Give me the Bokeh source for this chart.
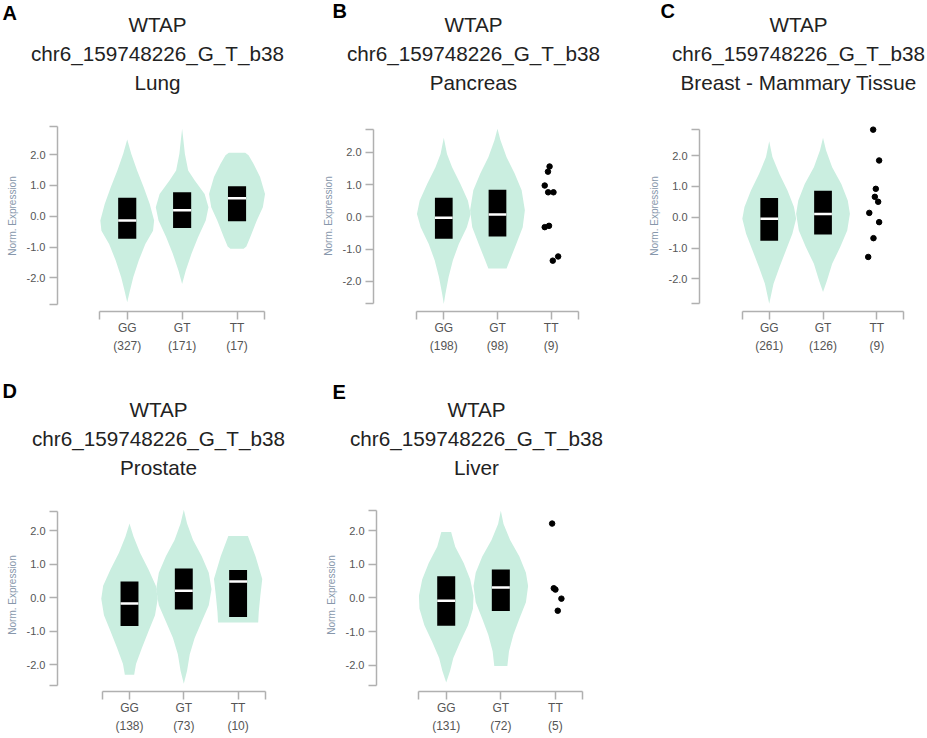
import numpy as np
from bokeh.plotting import figure
from bokeh.models import FixedTicker, PrintfTickFormatter
from bokeh.core.properties import value
from bokeh.layouts import column, row
from bokeh.embed import file_html
from bokeh.resources import INLINE

# ---------------- data ----------------
GENE = "WTAP"
VARIANT = "chr6_159748226_G_T_b38"
GENOTYPES = ["GG", "GT", "TT"]
LETTERS = ["A", "B", "C", "D", "E"]
TISSUES = ["Lung", "Pancreas", "Breast - Mammary Tissue", "Prostate", "Liver"]

# sample counts per genotype
LUNG_N = [327, 171, 17]
PANC_N = [198, 98, 9]
BREA_N = [261, 126, 9]
PROS_N = [138, 73, 10]
LIVR_N = [131, 72, 5]

# box stats per genotype: q1, median, q3
LUNG_Q1 = [-0.73, -0.38, -0.16]
LUNG_MED = [-0.14, 0.19, 0.58]
LUNG_Q3 = [0.60, 0.78, 0.97]
PANC_Q1 = [-0.68, -0.61]
PANC_MED = [-0.03, 0.07]
PANC_Q3 = [0.59, 0.84]
BREA_Q1 = [-0.76, -0.56]
BREA_MED = [-0.05, 0.10]
BREA_Q3 = [0.62, 0.86]
PROS_Q1 = [-0.84, -0.35, -0.57]
PROS_MED = [-0.17, 0.21, 0.49]
PROS_Q3 = [0.49, 0.88, 0.83]
LIVR_Q1 = [-0.83, -0.39]
LIVR_MED = [-0.08, 0.31]
LIVR_Q3 = [0.65, 0.85]

# violin outlines: expression level (top -> bottom) and half width of the density
LUNG_GG_Y = [2.49, 2.03, 1.48, 0.94, 0.40, -0.14, -0.47, -0.90, -1.44, -1.98, -2.41, -2.79]
LUNG_GG_W = [0.0, 0.073, 0.18, 0.30, 0.41, 0.49, 0.47, 0.33, 0.21, 0.11, 0.05, 0.0]
LUNG_GT_Y = [2.84, 2.46, 2.03, 1.48, 1.16, 0.72, 0.29, -0.14, -0.68, -1.22, -1.76, -2.20]
LUNG_GT_W = [0.0, 0.024, 0.05, 0.11, 0.23, 0.41, 0.48, 0.43, 0.29, 0.17, 0.067, 0.0]
LUNG_TT_Y = [2.06, 1.98, 1.70, 1.27, 0.72, 0.29, -0.14, -0.68, -0.98, -1.06]
LUNG_TT_W = [0.15, 0.21, 0.30, 0.42, 0.51, 0.47, 0.36, 0.24, 0.17, 0.12]

PANC_GG_Y = [2.45, 1.95, 1.54, 1.02, 0.50, 0.09, -0.32, -0.84, -1.35, -1.87, -2.39, -2.70]
PANC_GG_W = [0.0, 0.06, 0.155, 0.31, 0.45, 0.50, 0.43, 0.28, 0.17, 0.09, 0.03, 0.0]
PANC_GT_Y = [2.73, 2.37, 1.85, 1.34, 0.82, 0.20, -0.32, -0.84, -1.35, -1.60]
PANC_GT_W = [0.0, 0.056, 0.17, 0.32, 0.45, 0.51, 0.47, 0.35, 0.23, 0.17]
PANC_TT_Y = [1.56, 1.40, 0.97, 0.76, 0.76, -0.32, -0.28, -1.36, -1.23]
PANC_TT_DX = [-0.03, -0.06, -0.12, -0.056, 0.043, -0.12, -0.04, 0.03, 0.13]

BREA_GG_Y = [2.46, 1.95, 1.40, 0.87, 0.33, -0.05, -0.54, -1.08, -1.62, -2.16, -2.81]
BREA_GG_W = [0.0, 0.06, 0.19, 0.34, 0.46, 0.50, 0.43, 0.31, 0.19, 0.08, 0.0]
BREA_GT_Y = [2.58, 2.17, 1.62, 1.08, 0.54, 0.11, -0.43, -0.97, -1.51, -2.05, -2.43]
BREA_GT_W = [0.0, 0.056, 0.17, 0.34, 0.46, 0.50, 0.45, 0.32, 0.17, 0.074, 0.0]
BREA_TT_Y = [2.84, 1.84, 0.92, 0.66, 0.50, 0.14, -0.16, -0.68, -1.29]
BREA_TT_DX = [-0.068, 0.043, -0.019, -0.037, 0.025, -0.14, 0.043, -0.062, -0.16]

PROS_GG_Y = [2.22, 1.83, 1.34, 0.85, 0.36, -0.03, -0.52, -1.00, -1.49, -1.98, -2.30]
PROS_GG_W = [0.0, 0.074, 0.196, 0.35, 0.485, 0.52, 0.47, 0.35, 0.23, 0.12, 0.086]
PROS_GT_Y = [2.63, 2.22, 1.73, 1.24, 0.75, 0.26, -0.22, -0.71, -1.20, -1.69, -2.18, -2.57]
PROS_GT_W = [0.0, 0.06, 0.17, 0.33, 0.46, 0.51, 0.46, 0.33, 0.20, 0.11, 0.06, 0.0]
PROS_TT_Y = [1.85, 1.24, 0.56, 0.07, -0.43, -0.74]
PROS_TT_W = [0.18, 0.32, 0.445, 0.41, 0.38, 0.37]

LIVR_GG_Y = [1.97, 1.53, 1.04, 0.55, 0.07, -0.32, -0.81, -1.30, -1.79, -2.18, -2.52]
LIVR_GG_W = [0.09, 0.165, 0.32, 0.44, 0.50, 0.49, 0.40, 0.26, 0.13, 0.07, 0.0]
LIVR_GT_Y = [2.60, 2.21, 1.73, 1.24, 0.75, 0.36, -0.13, -0.62, -1.10, -1.59, -2.03]
LIVR_GT_W = [0.0, 0.05, 0.17, 0.34, 0.46, 0.50, 0.46, 0.34, 0.23, 0.15, 0.12]
LIVR_TT_Y = [2.22, 0.29, 0.25, -0.02, -0.38]
LIVR_TT_DX = [-0.06, -0.03, 0.0, 0.11, 0.043]

Y_TICKS = [-2, -1, 0, 1, 2]

# ---------------- style ----------------
VIOLIN = "#caeee0"
AXIS = "#b0b0b0"
TICKTXT = "#555555"
LABELTXT = "#8797ab"
TITLETXT = "#222222"
FONT = "Liberation Sans"
BOX_HW = 0.165


def panel(counts, violins, points, q1, med, q3, lay):
    p = figure(width=lay["w"], height=lay["h"], x_range=lay["xr"], y_range=lay["yr"],
               output_backend="svg", toolbar_location=None, title=None,
               min_border_left=lay["left"], min_border_right=10,
               min_border_top=lay["top"], min_border_bottom=lay["bottom"])
    p.outline_line_color = None
    p.grid.visible = False

    for gi, vw in violins.items():
        yv = np.asarray(vw[0], dtype=float)
        wv = np.asarray(vw[1], dtype=float)
        c = gi + 1
        xs = np.concatenate([c - wv, (c + wv)[::-1]])
        ys = np.concatenate([yv, yv[::-1]])
        p.patch(xs, ys, fill_color=VIOLIN, line_color=None)

    cx = np.arange(1, len(q1) + 1)
    p.quad(left=cx - BOX_HW, right=cx + BOX_HW, bottom=q1, top=q3,
           fill_color="black", line_color=None)
    p.segment(x0=cx - BOX_HW, x1=cx + BOX_HW, y0=med, y1=med,
              line_color="white", line_width=2.5)

    if points is not None:
        gi, yv, dx = points
        p.scatter(x=(gi + 1) + np.asarray(dx), y=yv, size=5.5,
                  fill_color="black", line_color="black")

    xa = p.xaxis[0]
    xa.ticker = FixedTicker(ticks=[1, 2, 3], minor_ticks=[0.5, 3.5])
    xa.bounds = (0.5, 3.5)
    xa.major_label_overrides = {i + 1: f"{g}\n({n})" for i, (g, n) in enumerate(zip(GENOTYPES, counts))}
    ya = p.yaxis[0]
    lo, hi = lay["yb"]
    ya.ticker = FixedTicker(ticks=Y_TICKS, minor_ticks=[lo, hi])
    ya.bounds = (lo, hi)
    ya.formatter = PrintfTickFormatter(format="%.1f")
    ya.axis_label = "Norm. Expression"
    ya.axis_label_text_font = FONT
    ya.axis_label_text_font_size = "10px"
    ya.axis_label_text_font_style = "normal"
    ya.axis_label_text_color = LABELTXT
    ya.axis_label_standoff = 6
    for ax in (xa, ya):
        ax.axis_line_color = AXIS
        ax.axis_line_width = 1.5
        ax.major_tick_line_color = AXIS
        ax.minor_tick_line_color = AXIS
        ax.major_tick_line_width = 1.5
        ax.minor_tick_line_width = 1.5
        ax.major_tick_out = 8
        ax.major_tick_in = 0
        ax.minor_tick_out = 8
        ax.minor_tick_in = 0
        ax.major_label_text_font = FONT
        ax.major_label_text_color = TICKTXT
    ya.major_label_text_font_size = "11px"
    ya.major_label_standoff = 4
    xa.major_label_text_font_size = "12px"
    xa.major_label_standoff = 1
    xa.major_label_text_line_height = 1.3
    return p


def header(width, height, blocks):
    """blocks: (panel index, title centre x, letter x, letter baseline, 3 title baselines)"""
    h = figure(width=width, height=height, x_range=(0, width), y_range=(height, 0),
               x_axis_type=None, y_axis_type=None, output_backend="svg",
               toolbar_location=None, title=None, min_border=0)
    h.outline_line_color = None
    h.grid.visible = False
    for idx, cxp, lxp, lyp, tys in blocks:
        h.text(x=[cxp] * 3, y=tys, text=[GENE, VARIANT, TISSUES[idx]],
               text_font=value(FONT), text_font_size="20.7px", text_color=TITLETXT,
               text_align="center", text_baseline="alphabetic")
        h.text(x=[lxp], y=[lyp], text=[LETTERS[idx]], text_font=value(FONT),
               text_font_size="20px", text_font_style="bold", text_color="black",
               text_align="left", text_baseline="alphabetic")
    return h


LAYOUTS = [
    dict(w=310, h=245, left=57, top=2, bottom=52, xr=(-0.270, 4.156), yr=(-3.094, 3.107),
         yb=(-2.87, 2.91)),
    dict(w=307, h=245, left=63, top=2, bottom=52, xr=(-0.309, 4.049), yr=(-2.936, 2.986),
         yb=(-2.70, 2.70)),
    dict(w=308, h=245, left=82, top=2, bottom=52, xr=(-0.296, 3.719), yr=(-3.059, 3.137),
         yb=(-2.81, 2.84)),
    dict(w=310, h=246, left=57, top=8, bottom=45, xr=(-0.326, 4.149), yr=(-2.80, 2.969),
         yb=(-2.62, 2.59)),
    dict(w=307, h=246, left=66, top=8, bottom=45, xr=(-0.277, 3.954), yr=(-2.79, 2.968),
         yb=(-2.62, 2.61)),
]

pA = panel(LUNG_N, {0: (LUNG_GG_Y, LUNG_GG_W), 1: (LUNG_GT_Y, LUNG_GT_W), 2: (LUNG_TT_Y, LUNG_TT_W)},
           None, LUNG_Q1, LUNG_MED, LUNG_Q3, LAYOUTS[0])
pB = panel(PANC_N, {0: (PANC_GG_Y, PANC_GG_W), 1: (PANC_GT_Y, PANC_GT_W)},
           (2, PANC_TT_Y, PANC_TT_DX), PANC_Q1, PANC_MED, PANC_Q3, LAYOUTS[1])
pC = panel(BREA_N, {0: (BREA_GG_Y, BREA_GG_W), 1: (BREA_GT_Y, BREA_GT_W)},
           (2, BREA_TT_Y, BREA_TT_DX), BREA_Q1, BREA_MED, BREA_Q3, LAYOUTS[2])
pD = panel(PROS_N, {0: (PROS_GG_Y, PROS_GG_W), 1: (PROS_GT_Y, PROS_GT_W), 2: (PROS_TT_Y, PROS_TT_W)},
           None, PROS_Q1, PROS_MED, PROS_Q3, LAYOUTS[3])
pE = panel(LIVR_N, {0: (LIVR_GG_Y, LIVR_GG_W), 1: (LIVR_GT_Y, LIVR_GT_W)},
           (2, LIVR_TT_Y, LIVR_TT_DX), LIVR_Q1, LIVR_MED, LIVR_Q3, LAYOUTS[4])

hTop = header(925, 118, [
    (0, 157, 2, 12, [23.8, 53, 82]),
    (1, 473, 332, 10.3, [23.8, 53, 82]),
    (2, 798, 660, 10.3, [23.8, 53, 82]),
])
hBot = header(925, 127, [
    (3, 158, 2, 27, [46, 75, 103.5]),
    (4, 476, 332, 28, [46, 75, 103.5]),
])

layout = column(hTop, row(pA, pB, pC), hBot, row(pD, pE))
open("out.html", "w").write(file_html(layout, INLINE))
